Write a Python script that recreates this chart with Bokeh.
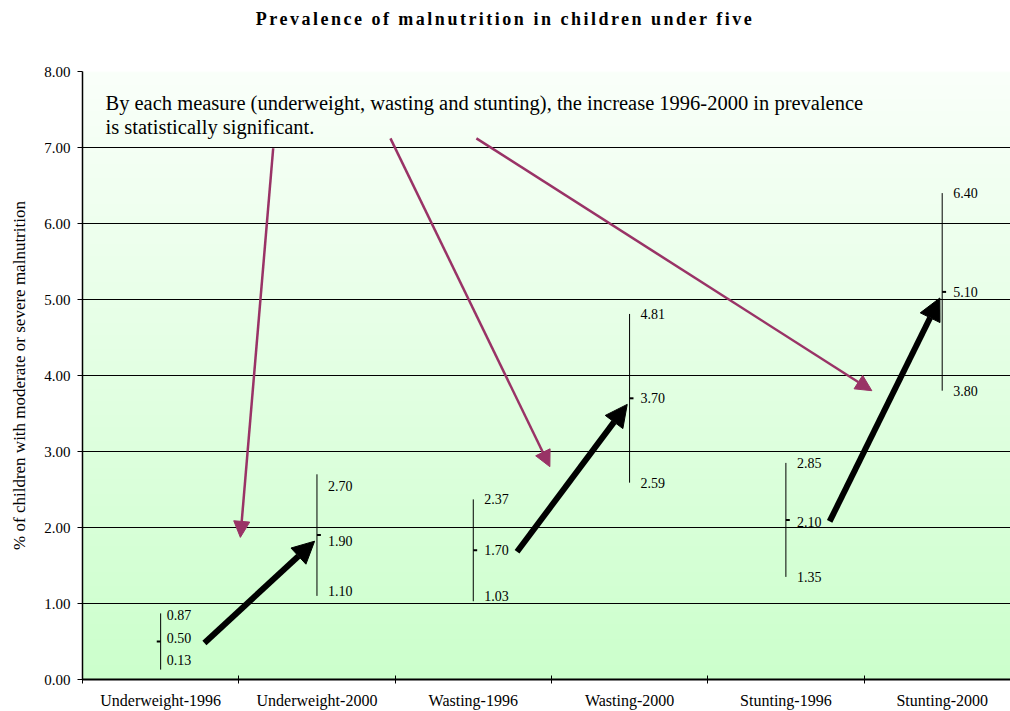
import numpy as np
from bokeh.plotting import figure
from bokeh.layouts import column
from bokeh.models import (FixedTicker, Arrow, NormalHead, Label, ColumnDataSource,
                          Range1d, PrintfTickFormatter, Div)
from bokeh.core.properties import value
from bokeh.embed import file_html
from bokeh.resources import INLINE

# ---------------- data ----------------
categories = ["Underweight-1996", "Underweight-2000", "Wasting-1996",
              "Wasting-2000", "Stunting-1996", "Stunting-2000"]
low = [0.13, 1.10, 1.03, 2.59, 1.35, 3.80]
mid = [0.50, 1.90, 1.70, 3.70, 2.10, 5.10]
high = [0.87, 2.70, 2.37, 4.81, 2.85, 6.40]
y_ticks = [0, 1, 2, 3, 4, 5, 6, 7, 8]

title_text = "Prevalence of malnutrition in children under five"
note_lines = ["By each measure (underweight, wasting and stunting), the increase 1996-2000 in prevalence",
              "is statistically significant."]
y_label = "% of children with moderate or severe malnutrition"

# callout arrows (annotation positions, data coordinates)
callout_x0 = [1.22, 1.97, 2.52]
callout_y0 = [6.99, 7.12, 7.12]
callout_x1 = [1.01, 2.99, 5.05]
callout_y1 = [1.87, 2.80, 3.80]

SERIF = "Liberation Serif"
PURPLE = "#993366"
TITLE_H = 40

x = np.arange(len(categories)) + 0.5

title_div = Div(text=title_text, width=1010, height=TITLE_H, margin=0,
                styles={"font-family": SERIF, "font-size": "18px", "font-weight": "bold",
                        "letter-spacing": "2.5px", "text-align": "center",
                        "color": "black", "padding-top": "8px", "box-sizing": "border-box",
                        "line-height": "22px"})

p = figure(width=1010, height=711 - TITLE_H, output_backend="svg", toolbar_location=None,
           x_range=Range1d(0, 5.937), y_range=Range1d(0, 8), margin=0,
           min_border_left=82, min_border_top=71 - TITLE_H, min_border_bottom=31,
           min_border_right=0)
p.outline_line_color = None
p.background_fill_color = "white"
p.border_fill_color = "white"

# gradient background (near white at top -> light green at bottom)
n = 256
t = np.linspace(0, 1, n)
img = np.empty((n, 1), dtype=np.uint32)
view = img.view(dtype=np.uint8).reshape((n, 1, 4))
view[:, 0, 0] = (204 + (250 - 204) * t).astype(np.uint8)
view[:, 0, 1] = 255
view[:, 0, 2] = (204 + (250 - 204) * t).astype(np.uint8)
view[:, 0, 3] = 255
bg = p.image_rgba(image=[img], x=0, y=0, dw=6, dh=8)
bg.level = "image"

# grid
p.xgrid.visible = False
p.ygrid.ticker = FixedTicker(ticks=y_ticks)
p.ygrid.grid_line_color = "black"
p.ygrid.grid_line_width = 1

# y axis
p.yaxis.ticker = FixedTicker(ticks=y_ticks)
p.yaxis.formatter = PrintfTickFormatter(format="%.2f")
p.yaxis.major_tick_out = 5
p.yaxis.major_tick_in = 0
p.yaxis.minor_tick_line_color = None
p.yaxis.axis_line_color = "black"
p.yaxis.axis_line_width = 1.5
p.yaxis.major_tick_line_color = "black"
p.yaxis.major_label_text_font = SERIF
p.yaxis.major_label_text_font_size = "15px"
p.yaxis.major_label_text_color = "black"
p.yaxis.major_label_standoff = 7
p.yaxis.axis_label = y_label
p.yaxis.axis_label_text_font = SERIF
p.yaxis.axis_label_text_font_size = "17px"
p.yaxis.axis_label_text_font_style = "normal"
p.yaxis.axis_label_text_color = "black"
p.yaxis.axis_label_standoff = 12

# x axis: labels at category centres, ticks at category boundaries
p.xaxis.ticker = FixedTicker(ticks=list(x), minor_ticks=list(range(len(categories) + 1)))
p.xaxis.major_label_overrides = {float(xi): c for xi, c in zip(x, categories)}
p.xaxis.major_tick_in = 0
p.xaxis.major_tick_out = 0
p.xaxis.minor_tick_in = 4
p.xaxis.minor_tick_out = 4
p.xaxis.minor_tick_line_color = "black"
p.xaxis.axis_line_color = "black"
p.xaxis.axis_line_width = 2
p.xaxis.major_label_text_font = SERIF
p.xaxis.major_label_text_font_size = "16px"
p.xaxis.major_label_text_color = "black"
p.xaxis.major_label_standoff = 8

# high-low lines and mean ticks
p.segment(x0=x, y0=low, x1=x, y1=high, line_color="black", line_width=1)
tick_dir = np.array([-1, 1, 1, 1, 1, 1])
p.segment(x0=x, y0=mid, x1=x + 0.025 * tick_dir, y1=mid, line_color="black", line_width=2)

# value labels
lab_dx = [6, 11, 11, 11, 11, 11]
hi_dy = [2, 12, 0, 0, 0, 0]
mid_dy = [-4, 6, 0, 0, 2, 0]
lo_dy = [-10, -5, -5, 0, 0, 0]
src = ColumnDataSource(dict(
    x=list(x) * 3,
    y=high + mid + low,
    text=[f"{v:.2f}" for v in high + mid + low],
    dx=lab_dx * 3,
    dy=hi_dy + mid_dy + lo_dy,
))
p.text(x="x", y="y", text="text", x_offset="dx", y_offset="dy", source=src,
       text_font=value(SERIF), text_font_size="14px", text_color="black",
       text_align="left", text_baseline="middle")

# black arrows 1996 -> 2000
for i in (0, 2, 4):
    p.add_layout(Arrow(x_start=x[i] + 0.28, y_start=mid[i] - 0.02,
                       x_end=x[i + 1] - 0.015, y_end=mid[i + 1] - 0.08,
                       line_color="black", line_width=6,
                       end=NormalHead(size=22, fill_color="black", line_color="black")))

# purple callout arrows
for a, b, c, d in zip(callout_x0, callout_y0, callout_x1, callout_y1):
    p.add_layout(Arrow(x_start=a, y_start=b, x_end=c, y_end=d,
                       line_color=PURPLE, line_width=2.5,
                       end=NormalHead(size=16, fill_color=PURPLE, line_color=PURPLE)))

# note text
for k, line in enumerate(note_lines):
    p.add_layout(Label(x=0.147, y=7.59 - k * 0.315, text=line, text_font=SERIF,
                       text_font_size="20.5px", text_color="black",
                       text_align="left", text_baseline="middle"))

layout = column(title_div, p, spacing=0, margin=0)
open("out.html", "w").write(file_html(layout, INLINE))
